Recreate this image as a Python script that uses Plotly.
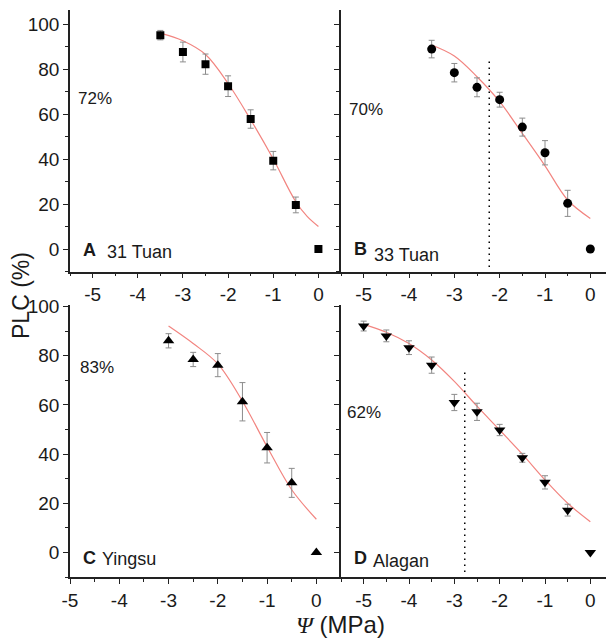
import plotly.graph_objects as go

psi_A = [-3.5, -3, -2.5, -2, -1.5, -1, -0.5, 0]
plc_A = [95.1, 87.6, 82.2, 72.4, 57.8, 39.3, 19.6, 0]
err_A = [2.1, 4.4, 4.5, 4.6, 4.1, 4.1, 3.5, 0]

psi_B = [-3.5, -3, -2.5, -2, -1.5, -1, -0.5, 0]
plc_B = [88.9, 78.4, 71.9, 66.4, 54.2, 42.8, 20.3, 0]
err_B = [3.9, 4.1, 4.2, 3.3, 4.0, 5.4, 5.8, 0]

psi_C = [-3, -2.5, -2, -1.5, -1, -0.5, 0]
plc_C = [86.1, 78.5, 76.2, 61.3, 42.6, 28.3, 0]
err_C = [2.9, 2.9, 4.7, 7.8, 6.2, 5.9, 0]

psi_D = [-5, -4.5, -4, -3.5, -3, -2.5, -2, -1.5, -1, -0.5, 0]
plc_D = [92.1, 88.1, 83.3, 76.2, 61.0, 57.2, 49.8, 38.5, 28.5, 17.2, 0]
err_D = [2.0, 2.4, 2.8, 3.3, 3.3, 3.5, 2.3, 1.8, 2.7, 2.4, 0]

# fitted curves
fit_x_A = [-3.5, -3, -2.5, -2, -1.5, -1, -0.5, -0.25, 0]
fit_y_A = [96, 92.6, 86.5, 73.6, 57.5, 40, 21, 14.5, 10]
fit_x_B = [-3.5, -3, -2.5, -2, -1.5, -1, -0.5, 0]
fit_y_B = [90.7, 85.8, 76.6, 65.5, 51.4, 37, 21.8, 13.6]
fit_x_C = [-3, -2.5, -2, -1.5, -1, -0.5, 0]
fit_y_C = [92.1, 85, 76.7, 61.5, 43, 25.5, 13.5]
fit_x_D = [-5, -4.5, -4, -3.5, -3, -2.5, -2, -1.5, -1, -0.5, 0]
fit_y_D = [92.8, 89.6, 85, 78.3, 69.6, 59.5, 49.8, 40, 29.5, 20, 12.5]

# dotted reference lines (panel B and D): x, y bottom, y top
p_line_B = [-2.23, -8, 84]
p_line_D = [-2.77, -8, 73.5]

x_ticks = [-5, -4, -3, -2, -1, 0]
x_ticktext = ["-5", "-4", "-3", "-2", "-1", "0"]
pct_labels = ["72%", "70%", "83%", "62%"]
letters = ["A", "B", "C", "D"]
sites = ["31 Tuan", "33 Tuan", "Yingsu", "Alagan"]

# page body keeps an 8px margin, so the figure is 8px smaller than the window
OFF = 8
W, H = 614 - OFF, 638 - OFF
FONT = "Liberation Sans, Arial, sans-serif"


def px(x, y):
    # window pixel -> paper coords
    return (x - OFF) / W, 1 - (y - OFF) / H


def xd(a, b):
    return [px(a, 0)[0], px(b, 0)[0]]


def yd(top, bottom):
    return [px(0, bottom)[1], px(0, top)[1]]


fig = go.Figure()

panels = [
    (psi_A, plc_A, err_A, fit_x_A, fit_y_A, "square", 8, "x", "y"),
    (psi_B, plc_B, err_B, fit_x_B, fit_y_B, "circle", 9, "x2", "y2"),
    (psi_C, plc_C, err_C, fit_x_C, fit_y_C, "triangle-up", 10, "x3", "y3"),
    (psi_D, plc_D, err_D, fit_x_D, fit_y_D, "triangle-down", 10, "x4", "y4"),
]

for xs, ys, es, fx, fy, sym, size, xa, ya in panels:
    fig.add_trace(go.Scatter(x=fx, y=fy, mode="lines", line=dict(color="#f28580", width=1.2, shape="spline"),
                             xaxis=xa, yaxis=ya, showlegend=False, hoverinfo="skip"))
    fig.add_trace(go.Scatter(x=xs, y=ys, mode="markers",
                             marker=dict(symbol=sym, size=size, color="black"),
                             error_y=dict(type="data", array=es, color="#8c8c8c", thickness=1, width=3),
                             xaxis=xa, yaxis=ya, showlegend=False))

for line, xa, ya in [(p_line_B, "x2", "y2"), (p_line_D, "x4", "y4")]:
    fig.add_trace(go.Scatter(x=[line[0], line[0]], y=[line[1], line[2]], mode="lines",
                             line=dict(color="black", width=1.5, dash="1.5px,4.5px"),
                             xaxis=xa, yaxis=ya, showlegend=False, hoverinfo="skip"))

xdom_l = xd(70, 341)
xdom_r = xd(341, 613)
ydom_t = yd(9.5, 271.5)
ydom_b = yd(305.4, 577)

tickfont = dict(family=FONT, size=19, color="#1a1a1a")
common_x = dict(showgrid=False, zeroline=False, showline=True, linecolor="#222", linewidth=1.5,
                ticks="outside", ticklen=5, tickwidth=1.3, tickcolor="#222",
                tickvals=x_ticks, ticktext=x_ticktext, automargin=False,
                minor=dict(dtick=0.5, ticks="outside", ticklen=3, tickwidth=1.2, tickcolor="#222"),
                tickfont=tickfont, fixedrange=True)
common_y = dict(showgrid=False, zeroline=False, showline=True, linecolor="#222", linewidth=1.5,
                ticks="outside", ticklen=5, tickwidth=1.3, tickcolor="#222", dtick=20, tick0=0,
                automargin=False,
                minor=dict(dtick=10, ticks="outside", ticklen=3, tickwidth=1.2, tickcolor="#222"),
                tickfont=tickfont, fixedrange=True)

fig.update_layout(
    width=W, height=H,
    margin=dict(l=0, r=0, t=0, b=0, autoexpand=False),
    paper_bgcolor="white", plot_bgcolor="white",
    font=dict(family=FONT, color="#1a1a1a"),
    xaxis=dict(common_x, domain=xdom_l, range=[-5.5, 0.5], anchor="y"),
    xaxis2=dict(common_x, domain=xdom_r, range=[-5.5, 0.5], anchor="y2"),
    xaxis3=dict(common_x, domain=xdom_l, range=[-5, 0.5], anchor="y3"),
    xaxis4=dict(common_x, domain=xdom_r, range=[-5.5, 0.5], anchor="y4"),
    yaxis=dict(common_y, domain=ydom_t, range=[-10, 106.5], anchor="x"),
    yaxis2=dict(common_y, domain=ydom_t, range=[-10, 106.5], anchor="x2", showticklabels=False),
    yaxis3=dict(common_y, domain=ydom_b, range=[-10, 100.5], anchor="x3"),
    yaxis4=dict(common_y, domain=ydom_b, range=[-10, 100.5], anchor="x4", showticklabels=False),
)

ann = []
pct_pos = [(76, 99), (347, 110), (78, 367), (345, 412)]
letter_pos = [(81, 250), (352, 249), (81, 558), (352, 558)]
site_pos = [(105, 252), (372, 255), (100, 559), (371, 561)]
for i in range(4):
    x, y = px(*pct_pos[i])
    ann.append(dict(x=x, y=y, text=pct_labels[i], font=dict(size=17, family=FONT, color="#1a1a1a")))
    x, y = px(*letter_pos[i])
    ann.append(dict(x=x, y=y, text="<b>" + letters[i] + "</b>", font=dict(size=18, family=FONT, color="#1a1a1a")))
    x, y = px(*site_pos[i])
    ann.append(dict(x=x, y=y, text=sites[i], font=dict(size=18, family=FONT, color="#1a1a1a")))
for a in ann:
    a.update(xref="paper", yref="paper", xanchor="left", yanchor="middle", showarrow=False)

x, y = px(21, 296)
ann.append(dict(x=x, y=y, xref="paper", yref="paper", text="PLC (%)", textangle=-90, showarrow=False,
                xanchor="center", yanchor="middle", borderpad=0,
                font=dict(size=23, family=FONT, color="#1a1a1a")))
x, y = px(340, 624)
ann.append(dict(x=x, y=y, xref="paper", yref="paper",
                text='<span style="font-family:Liberation Serif"><i>Ψ</i></span> (MPa)', showarrow=False,
                xanchor="center", yanchor="middle", borderpad=0,
                font=dict(size=24, family=FONT, color="#1a1a1a")))
fig.update_layout(annotations=ann)

fig.write_html("out.html")
